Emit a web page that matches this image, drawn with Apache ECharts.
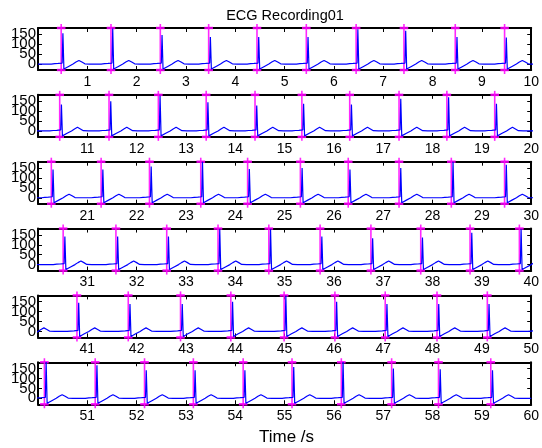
<!DOCTYPE html>
<html>
<head>
<meta charset="utf-8">
<script src="https://cdn.jsdelivr.net/npm/echarts@6/dist/echarts.min.js"></script>
<style>
  html, body { margin: 0; padding: 0; background: #fff; }
  #chart { width: 542px; height: 448px; }
</style>
</head>
<body>
<div id="chart"></div>
<script>
// R-peak annotation times (s), one list per 10-second strip
const rTimes1 = [0.47, 1.48, 2.48, 3.46, 4.44, 5.44, 6.45, 7.42, 8.46, 9.46];
const rTimes2 = [10.44, 11.44, 12.44, 13.41, 14.40, 15.35, 16.32, 17.32, 18.29, 19.26];
const rTimes3 = [20.27, 21.28, 22.26, 23.30, 24.25, 25.32, 26.29, 27.32, 28.38, 29.46];
const rTimes4 = [30.51, 31.58, 32.61, 33.65, 34.68, 35.72, 36.75, 37.76, 38.76, 39.76];
const rTimes5 = [40.79, 41.83, 42.89, 43.91, 44.99, 46.02, 47.04, 48.09, 49.11];
const rTimes6 = [50.13, 51.16, 52.16, 53.15, 54.16, 55.15, 56.15, 57.17, 58.12, 59.18];

// R-wave amplitudes for the same beats
const rAmp1 = [155, 180, 146, 137, 137, 137, 175, 168, 137, 134];
const rAmp2 = [133, 150, 178, 145, 128, 137, 133, 162, 170, 137];
const rAmp3 = [142, 142, 158, 182, 145, 150, 142, 150, 182, 166];
const rAmp4 = [142, 142, 142, 178, 178, 142, 133, 137, 161, 178];
const rAmp5 = [145, 138, 138, 150, 180, 150, 138, 138, 138];
const rAmp6 = [183, 167, 142, 142, 142, 158, 186, 150, 147, 142];

// One PQRST complex: time offsets from the annotation and amplitudes
// (null marks the R peak, taken from the amplitude lists above)
const beatOffsets = [-0.20, -0.13, -0.10, -0.06, -0.02, 0.02, 0.035, 0.055, 0.08, 0.15, 0.24, 0.30, 0.36, 0.42, 0.48, 0.58];
const beatLevels  = [0, 2, 8, 3, 0, 5, null, -25, -22, -12, 0, 10, 18, 10, 1, 0];

// Axis tick labels
const yTicks = [0, 50, 100, 150];
const recordDuration = 60;
const stripLength = 10;

const rTimes = [rTimes1, rTimes2, rTimes3, rTimes4, rTimes5, rTimes6];
const rAmps = [rAmp1, rAmp2, rAmp3, rAmp4, rAmp5, rAmp6];

// Assemble the full trace from the beat list
const trace = [[0, 0]];
rTimes.forEach((times, r) => {
  times.forEach((t, k) => {
    beatOffsets.forEach((dt, j) => {
      const v = beatLevels[j] === null ? rAmps[r][k] : beatLevels[j];
      trace.push([+(t + dt).toFixed(3), v]);
    });
  });
});
trace.push([recordDuration, 0]);
trace.sort((a, b) => a[0] - b[0]);

const FONT = "'Liberation Sans', Arial, sans-serif";
const Y_MIN = -30, Y_MAX = 182;
const rows = 6;
const gridLeft = 38, gridRight = 5, gridTop0 = 28, gridStep = 66.85, gridH = 42;

const grids = [], xAxes = [], yAxes = [], series = [];
for (let i = 0; i < rows; i++) {
  grids.push({ left: gridLeft, right: gridRight, top: gridTop0 + gridStep * i, height: gridH });
}
const axisLine = { show: true, onZero: false, lineStyle: { color: '#000', width: 2 } };
const tick = { inside: true, length: 4, lineStyle: { color: '#000', width: 1 } };
for (let i = 0; i < rows; i++) {
  xAxes.push({
    gridIndex: i, type: 'value', position: 'bottom',
    min: stripLength * i, max: stripLength * (i + 1), interval: 1,
    axisLine, axisTick: tick,
    axisLabel: { showMinLabel: false, showMaxLabel: true, margin: 5, fontSize: 14, color: '#000', fontFamily: FONT },
    splitLine: { show: false }
  });
}
for (let i = 0; i < rows; i++) {
  xAxes.push({
    gridIndex: i, type: 'value', position: 'top',
    min: stripLength * i, max: stripLength * (i + 1), interval: 1,
    axisLine, axisTick: tick, axisLabel: { show: false }, splitLine: { show: false }
  });
}
// The tick labels sit closer together than their height, so they are split
// over two overlaid left axes to keep every label drawn.
const labelSetA = yTicks.filter((v, k) => k % 2 === 0);
const labelSetB = yTicks.filter((v, k) => k % 2 === 1);
const yLabelStyle = { margin: 2, fontSize: 15, color: '#000', fontFamily: FONT, showMinLabel: true, showMaxLabel: true };
for (let i = 0; i < rows; i++) {
  yAxes.push({
    gridIndex: i, type: 'value', position: 'left', min: Y_MIN, max: Y_MAX,
    axisLine, axisTick: Object.assign({}, tick, { customValues: yTicks }),
    axisLabel: Object.assign({ customValues: labelSetA }, yLabelStyle),
    splitLine: { show: false }
  });
}
for (let i = 0; i < rows; i++) {
  yAxes.push({
    gridIndex: i, type: 'value', position: 'right', min: Y_MIN, max: Y_MAX,
    axisLine, axisTick: Object.assign({}, tick, { customValues: yTicks }),
    axisLabel: { show: false }, splitLine: { show: false }
  });
}
for (let i = 0; i < rows; i++) {
  yAxes.push({
    gridIndex: i, type: 'value', position: 'left', offset: 0, min: Y_MIN, max: Y_MAX,
    axisLine: { show: false }, axisTick: { show: false },
    axisLabel: Object.assign({ customValues: labelSetB }, yLabelStyle),
    splitLine: { show: false }
  });
}

const markStyle = { stroke: '#ff00ff', lineWidth: 1.6, opacity: 0.85 };
for (let i = 0; i < rows; i++) {
  const lo = stripLength * i - 1, hi = stripLength * (i + 1) + 1;
  series.push({
    type: 'line', xAxisIndex: i, yAxisIndex: i,
    data: trace.filter(p => p[0] >= lo && p[0] <= hi),
    showSymbol: false, clip: true, silent: true,
    lineStyle: { color: '#0000ff', width: 1.2 }
  });
  series.push({
    type: 'custom', xAxisIndex: i, yAxisIndex: i, clip: false, silent: true,
    data: rTimes[i].map(t => [t, 0]),
    renderItem: function (params, api) {
      const t = api.value(0);
      const top = api.coord([t, Y_MAX]);
      const bot = api.coord([t, Y_MIN]);
      const x = top[0];
      return {
        type: 'group',
        children: [
          { type: 'line', shape: { x1: x, y1: top[1] - 4, x2: x, y2: bot[1] + 4 }, style: markStyle },
          { type: 'line', shape: { x1: x - 4.3, y1: top[1], x2: x + 4.3, y2: top[1] }, style: Object.assign({}, markStyle, { lineWidth: 2.5 }) },
          { type: 'line', shape: { x1: x - 4.3, y1: bot[1], x2: x + 4.3, y2: bot[1] }, style: Object.assign({}, markStyle, { lineWidth: 2.5 }) }
        ]
      };
    }
  });
}

const chart = echarts.init(document.getElementById('chart'), null, { renderer: 'canvas' });
chart.setOption({
  animation: false,
  backgroundColor: '#fff',
  grid: grids,
  xAxis: xAxes,
  yAxis: yAxes,
  series: series,
  graphic: [
    { type: 'text', x: 285, y: 15.5,
      style: { text: 'ECG Recording01', font: '14.5px ' + FONT, fill: '#000', textAlign: 'center', textVerticalAlign: 'middle' } },
    { type: 'text', x: 286.5, y: 437.5,
      style: { text: 'Time /s', font: '17px ' + FONT, fill: '#000', textAlign: 'center', textVerticalAlign: 'middle' } }
  ]
});
</script>
</body>
</html>
